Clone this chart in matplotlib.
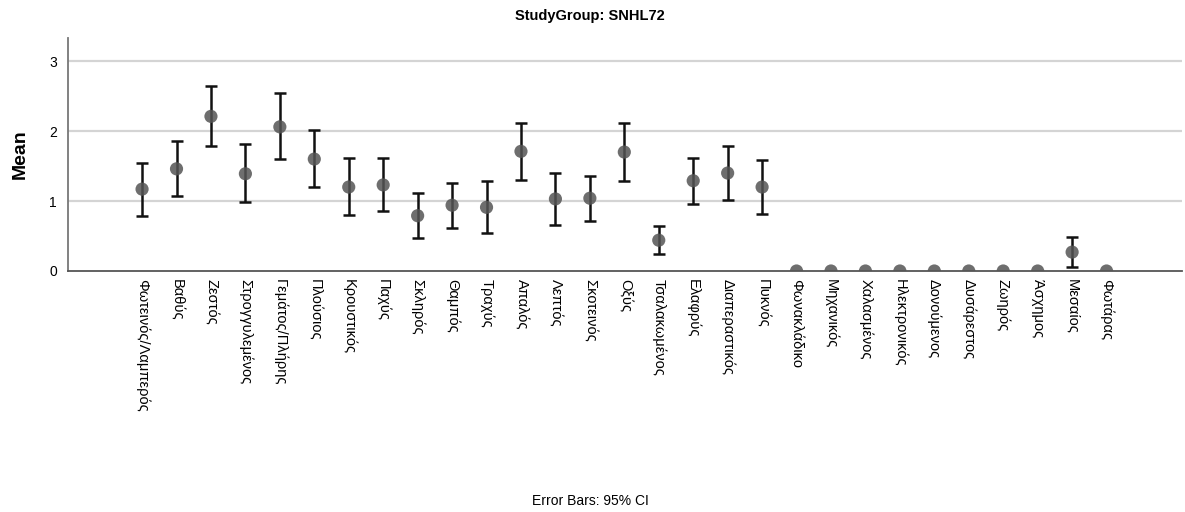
import matplotlib
matplotlib.use("Agg")
import matplotlib.pyplot as plt
import numpy as np

plt.rcParams['font.family'] = ['Liberation Sans', 'DejaVu Sans']

# categories and values
labels = ['Φωτεινός/Λαμπερός', 'Βαθύς', 'Ζεστός', 'Στρογγυλεμένος', 'Γεμάτος/Πλήρης',
          'Πλούσιος', 'Κρουστικός', 'Παχύς', 'Σκληρός', 'Θαμπός', 'Τραχύς', 'Απαλός',
          'Λεπτός', 'Σκοτεινός', 'Οξύς', 'Τσαλακωμένος', 'Ελαφρύς', 'Διαπεραστικός',
          'Πυκνός', 'Φωνακλάδικο', 'Μηχανικός', 'Χαλασμένος', 'Ηλεκτρονικός',
          'Δονούμενος', 'Δυσάρεστος', 'Ζωηρός', 'Άσχημος', 'Μεσαίος', 'Φωτάρας']
means = [1.17, 1.46, 2.21, 1.39, 2.06, 1.60, 1.20, 1.23, 0.79, 0.94, 0.91, 1.71,
         1.03, 1.04, 1.70, 0.44, 1.29, 1.40, 1.20, 0, 0, 0, 0, 0, 0, 0, 0, 0.27, 0]
ci_low = [0.79, 1.07, 1.78, 0.98, 1.60, 1.20, 0.80, 0.86, 0.47, 0.62, 0.55, 1.30,
          0.66, 0.71, 1.28, 0.24, 0.96, 1.01, 0.82, 0, 0, 0, 0, 0, 0, 0, 0, 0.06, 0]
ci_high = [1.55, 1.86, 2.65, 1.81, 2.54, 2.01, 1.61, 1.61, 1.11, 1.26, 1.28, 2.12,
           1.40, 1.36, 2.11, 0.64, 1.62, 1.78, 1.59, 0, 0, 0, 0, 0, 0, 0, 0, 0.48, 0]

x = np.arange(len(labels))
means = np.array(means)
yerr = np.vstack([means - np.array(ci_low), np.array(ci_high) - means])

fig = plt.figure(figsize=(11.85, 5.12), dpi=100)
ax = fig.add_axes([68/1185, 1 - 271/512, (1182-68)/1185, (271-38)/512])

for g in [1, 2, 3]:
    ax.axhline(g, color='#d4d4d4', lw=1.6, zorder=0)

has_err = (yerr.sum(axis=0) > 0)
ax.errorbar(x[has_err], means[has_err], yerr=yerr[:, has_err], fmt='none',
            ecolor='#111111', elinewidth=1.8, capsize=4.5, capthick=1.8, zorder=2)
ax.scatter(x, means, s=90, color='#555555', alpha=0.85, edgecolors='none', zorder=3)

ax.set_xlim(-2.15, 30.19)
ax.set_ylim(0, 3.33)
ax.set_yticks([0, 1, 2, 3])
ax.set_xticks(x)
ax.set_xticklabels(labels, rotation=-90, fontsize=10.5, va='top', ha='center')
ax.tick_params(axis='both', length=0)
ax.tick_params(axis='x', pad=6)
ax.tick_params(axis='y', labelsize=10, pad=8)

for s in ['top', 'right']:
    ax.spines[s].set_visible(False)
ax.spines['left'].set_color('#777777')
ax.spines['bottom'].set_color('#555555')
ax.spines['left'].set_linewidth(1.3)
ax.spines['bottom'].set_linewidth(1.3)

fig.text(20/1185, 1 - 154/512, 'Mean', rotation=90, fontsize=14, fontweight='bold',
         ha='center', va='center')
fig.text(590/1185, 1 - 16/512, 'StudyGroup: SNHL72', fontsize=10.5, fontweight='bold',
         ha='center', va='center')
fig.text(590/1185, 1 - 501/512, 'Error Bars: 95% CI', fontsize=10,
         ha='center', va='center')

fig.savefig('out.png', dpi=100)
